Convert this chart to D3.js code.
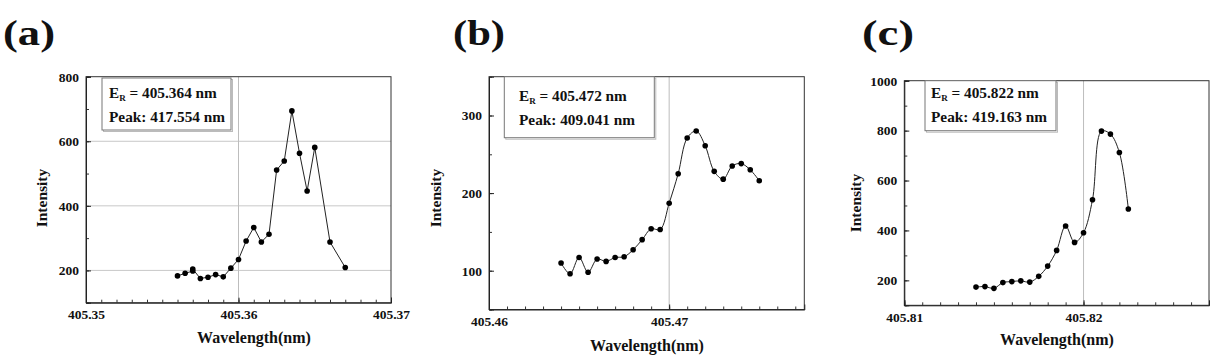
<!DOCTYPE html>
<html><head><meta charset="utf-8">
<script src="https://cdn.jsdelivr.net/npm/d3@7"></script>
<style>
body{margin:0;background:#fff;}
svg{display:block;}
</style></head><body>
<svg id="chart" width="1217" height="356"></svg>
<script>
const SERIF = "'Liberation Serif', 'Times New Roman', 'DejaVu Serif', serif";
// Panel (a)
const aWavelength = [405.356,405.3565,405.357,405.357,405.3575,405.358,405.3585,405.359,405.3595,405.36,405.3605,405.361,405.3615,405.362,405.3625,405.363,405.3635,405.364,405.3645,405.365,405.366,405.367];
const aIntensity  = [183,191,198,204,175,179,187,180,207,234,291,333,288,312,511,539,694,563,446,581,288,209];
const aXTicks = [405.35,405.36,405.37];
const aYTicks = [200,400,600,800];
// Panel (b)
const bWavelength = [405.464,405.4645,405.465,405.4655,405.466,405.4665,405.467,405.4675,405.468,405.4685,405.469,405.4695,405.47,405.4705,405.471,405.4715,405.472,405.4725,405.473,405.4735,405.474,405.4745,405.475];
const bIntensity  = [110,96,117,98,115,112,117,118,127,140,154,153,187,225,271,280,261,228,218,235,238,230,216];
const bXTicks = [405.46,405.47];
const bYTicks = [100,200,300];
// Panel (c)
const cWavelength = [405.814,405.8145,405.815,405.8155,405.816,405.8165,405.817,405.8175,405.818,405.8185,405.819,405.8195,405.82,405.8205,405.821,405.8215,405.822,405.8225];
const cIntensity  = [173,175,168,191,195,198,193,216,257,320,418,352,391,523,798,786,712,486];
const cXTicks = [405.81,405.82];
const cYTicks = [200,400,600,800,1000];

const panels = [
  {tag:"(a)", tagX:3, xs:aWavelength, ys:aIntensity, xt:aXTicks, yt:aYTicks,
   xd:[405.35,405.37], yd:[100,800], xminor:0.001, yminor:100, fmtX:".2f",
   box:[86,76.7,391,302.7], hgrid:true, vgrid:405.36, curve:d3.curveLinear,
   er:"405.364", peak:"417.554", leg:[102,78,129,52], legText:[109,98,121.5],
   ylab:[43,198], xlab:[254,343]},
  {tag:"(b)", tagX:453, xs:bWavelength, ys:bIntensity, xt:bXTicks, yt:bYTicks,
   xd:[405.46,405.4775], yd:[50,350], xminor:0.001, yminor:50, fmtX:".2f",
   box:[489,76.7,804.3,309.5], hgrid:false, vgrid:405.47, curve:d3.curveCatmullRom,
   er:"405.472", peak:"409.041", leg:[504.3,76.7,150,61], legText:[519,100.5,124.5],
   ylab:[437,198], xlab:[647,351]},
  {tag:"(c)", tagX:862, xs:cWavelength, ys:cIntensity, xt:cXTicks, yt:cYTicks,
   xd:[405.81,405.827], yd:[100,1000], xminor:0.001, yminor:100, fmtX:".2f",
   box:[904.3,80.7,1209,305.3], hgrid:false, vgrid:405.82, curve:d3.curveCatmullRom,
   er:"405.822", peak:"419.163", leg:[925,80.7,131,50], legText:[931,98,122],
   ylab:[857,203], xlab:[1057,345]}
];

const svg = d3.select("#chart");

function styleText(sel, size) {
  return sel.style("font-family", SERIF).style("font-weight", "bold")
            .style("font-size", size + "px").style("fill", "#111");
}

panels.forEach(p => {
  const [x0,y0,x1,y1] = p.box;
  const x = d3.scaleLinear().domain(p.xd).range([x0,x1]);
  const y = d3.scaleLinear().domain(p.yd).range([y1,y0]);
  const g = svg.append("g");

  // panel tag
  styleText(svg.append("text").attr("x",p.tagX).attr("y",45)
    .attr("textLength",52).attr("lengthAdjust","spacingAndGlyphs").text(p.tag), 35);

  // grid
  if (p.hgrid) {
    g.selectAll(".hg").data(p.yt.filter(v => v < p.yd[1])).enter().append("line")
      .attr("x1",x0).attr("x2",x1).attr("y1",d=>y(d)).attr("y2",d=>y(d))
      .attr("stroke","#c8c8c8").attr("stroke-width",1);
  }
  g.append("line").attr("x1",x(p.vgrid)).attr("x2",x(p.vgrid)).attr("y1",y0).attr("y2",y1)
    .attr("stroke","#bdbdbd").attr("stroke-width",1);

  // frame
  g.append("rect").attr("x",x0).attr("y",y0).attr("width",x1-x0).attr("height",y1-y0)
    .attr("fill","none").attr("stroke","#333").attr("stroke-width",1);

  // minor ticks
  const xMinor = d3.range(Math.round((p.xd[1]-p.xd[0])/p.xminor)+1).map(i => p.xd[0]+i*p.xminor).filter(v=>v<=p.xd[1]+1e-9);
  const yMinor = d3.range(Math.round((p.yd[1]-p.yd[0])/p.yminor)+1).map(i => p.yd[0]+i*p.yminor);
  g.append("g").attr("transform",`translate(0,${y1})`)
    .call(d3.axisBottom(x).tickValues(xMinor).tickSize(-3).tickFormat(""))
    .call(s=>{s.select(".domain").remove(); s.selectAll("line").attr("stroke","#333");});
  g.append("g").attr("transform",`translate(${x0},0)`)
    .call(d3.axisLeft(y).tickValues(yMinor).tickSize(-3).tickFormat(""))
    .call(s=>{s.select(".domain").remove(); s.selectAll("line").attr("stroke","#333");});

  // major axes
  const xa = g.append("g").attr("transform",`translate(0,${y1})`)
    .call(d3.axisBottom(x).tickValues(p.xt).tickSize(-5).tickPadding(7).tickFormat(d3.format(p.fmtX)));
  xa.select(".domain").attr("stroke","#222");
  xa.selectAll("line").attr("stroke","#222");
  styleText(xa.selectAll("text"), 13.5);
  const ya = g.append("g").attr("transform",`translate(${x0},0)`)
    .call(d3.axisLeft(y).tickValues(p.yt).tickSize(-5).tickPadding(7).tickFormat(d3.format("d")));
  ya.select(".domain").attr("stroke","#222");
  ya.selectAll("line").attr("stroke","#222");
  styleText(ya.selectAll("text"), 13.5);

  // axis labels
  styleText(svg.append("text").attr("transform",`translate(${p.ylab[0]},${p.ylab[1]}) rotate(-90)`)
    .attr("text-anchor","middle").attr("dominant-baseline","middle").text("Intensity"), 15.5);
  styleText(svg.append("text").attr("x",p.xlab[0]).attr("y",p.xlab[1]).attr("text-anchor","middle")
    .text("Wavelength(nm)"), 16);

  // data line + points
  const pts = p.xs.map((v,i)=>[v,p.ys[i]]);
  g.append("path").datum(pts)
    .attr("d", d3.line().x(d=>x(d[0])).y(d=>y(d[1])).curve(p.curve))
    .attr("fill","none").attr("stroke","#222").attr("stroke-width",1);
  g.selectAll(".pt").data(pts).enter().append("circle")
    .attr("cx",d=>x(d[0])).attr("cy",d=>y(d[1])).attr("r",2.8).attr("fill","#000");

  // legend box
  const [lx,ly,lw,lh] = p.leg;
  g.append("rect").attr("x",lx+1.5).attr("y",ly+1.5).attr("width",lw).attr("height",lh)
    .attr("fill","none").attr("stroke","#bbb").attr("stroke-width",1);
  g.append("rect").attr("x",lx).attr("y",ly).attr("width",lw).attr("height",lh)
    .attr("fill","#fff").attr("stroke","#777").attr("stroke-width",1);
  const t1 = styleText(g.append("text").attr("x",p.legText[0]).attr("y",p.legText[1]), 15.3);
  t1.append("tspan").text("E");
  t1.append("tspan").style("font-size","9px").attr("dy",3).text("R");
  t1.append("tspan").attr("dy",-3).text(" = " + p.er + " nm");
  styleText(g.append("text").attr("x",p.legText[0]).attr("y",p.legText[2])
    .text("Peak: " + p.peak + " nm"), 15.3);
});
</script>
</body></html>
